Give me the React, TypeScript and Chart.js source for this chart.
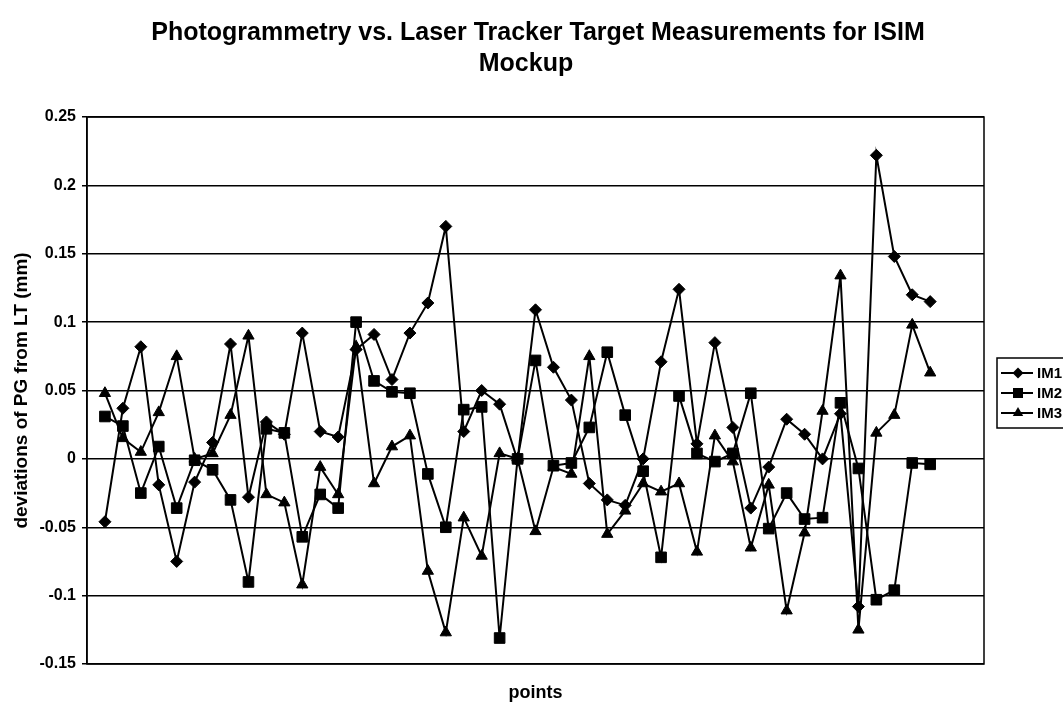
import React, { useEffect, useRef } from 'react';
import { Chart, registerables } from 'chart.js';

Chart.register(...registerables);

const titleLines = ['Photogrammetry vs. Laser Tracker Target Measurements for ISIM', 'Mockup'];
const xTitle = 'points';
const yTitle = 'deviations of PG from LT (mm)';
const seriesNames = ['IM1', 'IM2', 'IM3'];
const pointStyles = ['rectRot', 'rect', 'triangle'];

const im1 = [
  -0.046, 0.037, 0.082, -0.019, -0.075, -0.017, 0.012, 0.084, -0.028, 0.027,
  0.018, 0.092, 0.020, 0.016, 0.080, 0.091, 0.058, 0.092, 0.114, 0.170,
  0.020, 0.050, 0.040, -0.001, 0.109, 0.067, 0.043, -0.018, -0.030, -0.034,
  0.000, 0.071, 0.124, 0.011, 0.085, 0.023, -0.036, -0.006, 0.029, 0.018,
  0.000, 0.033, -0.108, 0.222, 0.148, 0.120, 0.115,
];
const im2 = [
  0.031, 0.024, -0.025, 0.009, -0.036, -0.001, -0.008, -0.030, -0.090, 0.022,
  0.019, -0.057, -0.026, -0.036, 0.100, 0.057, 0.049, 0.048, -0.011, -0.050,
  0.036, 0.038, -0.131, 0.000, 0.072, -0.005, -0.003, 0.023, 0.078, 0.032,
  -0.009, -0.072, 0.046, 0.004, -0.002, 0.004, 0.048, -0.051, -0.025, -0.044,
  -0.043, 0.041, -0.007, -0.103, -0.096, -0.003, -0.004,
];
const im3 = [
  0.048, 0.015, 0.005, 0.034, 0.075, 0.000, 0.004, 0.032, 0.090, -0.026,
  -0.032, -0.092, -0.006, -0.026, 0.082, -0.018, 0.009, 0.017, -0.082, -0.127,
  -0.043, -0.071, 0.004, 0.000, -0.053, -0.006, -0.011, 0.075, -0.055, -0.038,
  -0.018, -0.024, -0.018, -0.068, 0.017, -0.002, -0.065, -0.019, -0.111, -0.054,
  0.035, 0.134, -0.125, 0.019, 0.032, 0.098, 0.063,
];
const seriesValues = [im1, im2, im3];

const yMin = -0.15;
const yMax = 0.25;
const yStep = 0.05;
const xMin = 0;
const xMax = 50;

const FONT = '"Liberation Sans", Arial, Helvetica, sans-serif';

function drawMarker(ctx: CanvasRenderingContext2D, style: string, x: number, y: number) {
  ctx.beginPath();
  if (style === 'rectRot') {
    const r = 5.5;
    ctx.moveTo(x, y - r); ctx.lineTo(x + r, y); ctx.lineTo(x, y + r); ctx.lineTo(x - r, y);
  } else if (style === 'rect') {
    const h = 5;
    ctx.rect(x - h, y - h, 2 * h, 2 * h);
  } else {
    const r = 6;
    ctx.moveTo(x, y - r); ctx.lineTo(x + r * 0.87, y + r * 0.5); ctx.lineTo(x - r * 0.87, y + r * 0.5);
  }
  ctx.closePath();
  ctx.fill();
}

const decorations = {
  id: 'decorations',
  afterDraw(chart: any) {
    const { ctx, chartArea: a } = chart;
    ctx.save();
    ctx.strokeStyle = '#000';
    ctx.lineWidth = 1.5;
    ctx.strokeRect(a.left, a.top, a.right - a.left, a.bottom - a.top);

    ctx.fillStyle = '#000';
    ctx.textAlign = 'center';
    ctx.textBaseline = 'middle';
    ctx.font = `bold 25px ${FONT}`;
    ctx.fillText(titleLines[0], 538, 33);
    ctx.fillText(titleLines[1], 526, 64);

    ctx.font = `bold 18px ${FONT}`;
    ctx.fillText(xTitle, (a.left + a.right) / 2, 693);

    ctx.save();
    ctx.translate(22, (a.top + a.bottom) / 2);
    ctx.rotate(-Math.PI / 2);
    ctx.font = `bold 19px ${FONT}`;
    ctx.fillText(yTitle, 0, 0);
    ctx.restore();

    // legend
    const lx = 997, ly = 358, lh = 70;
    ctx.lineWidth = 1.5;
    ctx.strokeRect(lx, ly, 100, lh);
    ctx.textAlign = 'left';
    ctx.font = `bold 15px ${FONT}`;
    chart.data.datasets.forEach((ds: any, i: number) => {
      const y = ly + 15 + i * 20;
      ctx.strokeStyle = '#000';
      ctx.lineWidth = 2;
      ctx.beginPath();
      ctx.moveTo(lx + 4, y);
      ctx.lineTo(lx + 36, y);
      ctx.stroke();
      drawMarker(ctx, pointStyles[i], lx + 21, y);
      ctx.fillText(ds.label, lx + 40, y + 1);
    });
    ctx.restore();
  },
};

export default function App() {
  const ref = useRef<HTMLCanvasElement>(null);
  useEffect(() => {
    document.body.style.margin = '0';
    const canvas = ref.current!;
    const chart = new Chart(canvas, {
      type: 'line',
      data: {
        datasets: seriesNames.map((name, s) => ({
          label: name,
          data: seriesValues[s].map((v, i) => ({ x: i + 1, y: v })),
          borderColor: '#000',
          backgroundColor: '#000',
          borderWidth: 2,
          pointStyle: pointStyles[s] as any,
          pointRadius: s === 0 ? 6 : s === 1 ? 7.5 : 6.5,
          pointBackgroundColor: '#000',
          pointBorderColor: '#000',
          pointBorderWidth: 1,
          tension: 0,
          fill: false,
        })),
      },
      options: {
        animation: false,
        responsive: false,
        events: [],
        layout: { padding: { left: 0, right: 79, top: 117, bottom: 42 } },
        plugins: {
          legend: { display: false },
          title: { display: false },
          tooltip: { enabled: false },
        },
        scales: {
          x: {
            type: 'linear',
            min: xMin,
            max: xMax,
            display: false,
          },
          y: {
            min: yMin,
            max: yMax,
            afterFit: (scale: any) => { scale.width = 87; },
            ticks: {
              stepSize: yStep,
              color: '#000',
              padding: 6,
              font: { family: FONT, size: 16, weight: 'bold' },
              callback: (v: any) => String(Number(Number(v).toFixed(2))),
            },
            grid: { color: '#000', lineWidth: 1.5, drawTicks: true, tickLength: 5 },
            border: { display: true, color: '#000', width: 1.5 },
          },
        },
      },
      plugins: [decorations],
    });
    return () => chart.destroy();
  }, []);
  return (
    <div style={{ width: 1063, height: 706, background: '#fff' }}>
      <canvas ref={ref} width={1063} height={706} style={{ display: 'block' }} />
    </div>
  );
}
